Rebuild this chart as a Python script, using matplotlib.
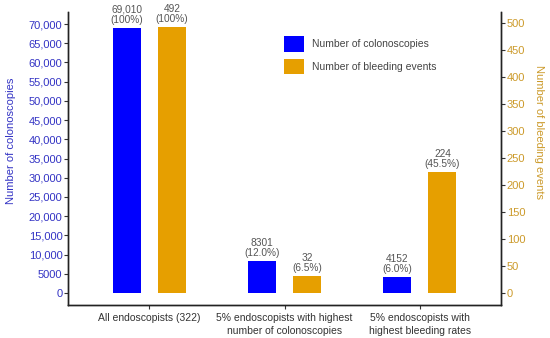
import matplotlib.pyplot as plt
import numpy as np

plt.rcParams['font.family'] = ['Liberation Sans', 'DejaVu Sans']

groups = ['All endoscopists (322)',
          '5% endoscopists with highest\nnumber of colonoscopies',
          '5% endoscopists with\nhighest bleeding rates']
colonoscopies = [69010, 8301, 4152]
col_labels = ['69,010\n(100%)', '8301\n(12.0%)', '4152\n(6.0%)']
bleeding = [492, 32, 224]
bleed_labels = ['492\n(100%)', '32\n(6.5%)', '224\n(45.5%)']

blue = '#0000FF'
orange = '#E69F00'
left_col = '#3333C4'
right_col = '#CC9A2A'
gray = '#555555'

fig = plt.figure(figsize=(5.5, 3.38), dpi=100)
ax = fig.add_axes([0.1236, 0.0976, 0.7874, 0.8669])
ax2 = ax.twinx()

x = np.arange(len(groups))
w = 0.207
off = 0.167

ax.bar(x - off, colonoscopies, w, color=blue, label='Number of colonoscopies')
ax2.bar(x + off, bleeding, w, color=orange, label='Number of bleeding events')

for xi, v, t in zip(x, colonoscopies, col_labels):
    ax.annotate(t, (xi - off, v), xytext=(0, 2), textcoords='offset points',
                ha='center', va='bottom', fontsize=7.3, color=gray, linespacing=1.05)
for xi, v, t in zip(x, bleeding, bleed_labels):
    ax2.annotate(t, (xi + off, v), xytext=(0, 2), textcoords='offset points',
                 ha='center', va='bottom', fontsize=7.3, color=gray, linespacing=1.05)

ax.set_xlim(-0.6, 2.6)
ax.set_ylim(-3123, 73125)
ax2.set_ylim(-22.2, 520)

ax.set_yticks(np.arange(0, 70001, 5000))
ax.set_yticklabels(['0' if v == 0 else ('5000' if v == 5000 else f'{v:,}')
                    for v in range(0, 70001, 5000)])
ax2.set_yticks(np.arange(0, 501, 50))
ax.set_xticks(x)
ax.set_xticklabels(groups, fontsize=7.5, color='#333333', linespacing=1.3)

ax.tick_params(axis='y', colors='#333333', labelcolor=left_col, labelsize=8, length=3, pad=1)
ax2.tick_params(axis='y', colors='#333333', labelcolor=right_col, labelsize=8, length=3, pad=1)
ax.tick_params(axis='x', colors='#333333', length=3, pad=3)

for a in (ax, ax2):
    a.spines['top'].set_visible(False)
    for s in ('left', 'right', 'bottom'):
        a.spines[s].set_color('#222222')
        a.spines[s].set_linewidth(1.0)

ax.set_ylabel('Number of colonoscopies', color=left_col, fontsize=8)
ax.yaxis.set_label_coords(-0.12, 0.56)
ax2.set_ylabel('Number of bleeding events', color=right_col, fontsize=8, rotation=270)
ax2.yaxis.set_label_coords(1.10, 0.59)

h1, l1 = ax.get_legend_handles_labels()
h2, l2 = ax2.get_legend_handles_labels()
fig.legend(h1 + h2, l1 + l2, loc='upper left', bbox_to_anchor=(275 / 550, 1 - 27 / 338),
           frameon=False, fontsize=7.5, handlelength=1.9, handleheight=1.9,
           labelspacing=0.7, handletextpad=0.8, labelcolor='#444444')

fig.savefig('out.png', dpi=100)
